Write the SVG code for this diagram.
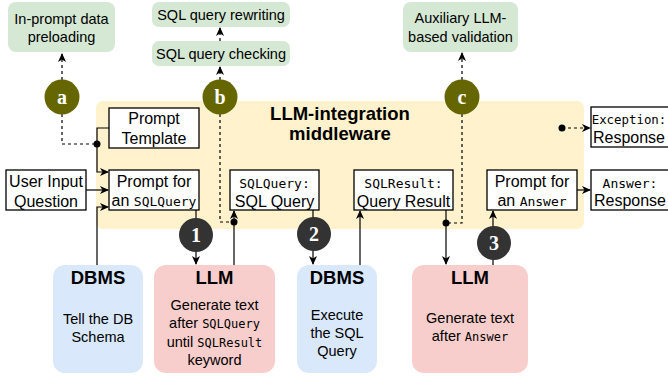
<svg xmlns="http://www.w3.org/2000/svg" width="668" height="377" viewBox="0 0 668 377">
<defs>
<style>
.s{font-family:"Liberation Sans",Arial,sans-serif;fill:#000;text-anchor:middle}
.m{font-family:"DejaVu Sans Mono",monospace}
.bx{font-size:16px}
.bt{font-size:14.5px}
.ttl{font-size:18.5px;font-weight:bold}
.box{fill:#fff;stroke:#000;stroke-width:1.3}
.gr{fill:#D5E8D4}
.bl{fill:#DAE8FC}
.rd{fill:#F8CECC}
.ln{fill:none;stroke:#000;stroke-width:1.2}
.dl{fill:none;stroke:#000;stroke-width:1.2;stroke-dasharray:3 3}
.ol{fill:#666600}
.dk{fill:#333333}
.ct{font-family:"Liberation Serif","Times New Roman",serif;font-weight:bold;fill:#fff;text-anchor:middle;font-size:20px}
</style>
<marker id="ar" markerWidth="9" markerHeight="8" refX="8" refY="4" orient="auto" markerUnits="userSpaceOnUse">
<path d="M0,0 L9,4 L0,8 L2.5,4 z" fill="#000"/>
</marker>
</defs>
<rect x="96" y="101" width="488" height="128" rx="7" fill="#FFF2CC"/>
<text class="s ttl" x="340" y="120">LLM-integration</text>
<text class="s ttl" x="340" y="140">middleware</text>

<g id="connectors">
<path class="dl" d="M62,80 V54" marker-end="url(#ar)"/>
<path class="dl" d="M220,80 V67" marker-end="url(#ar)"/>
<path class="dl" d="M220,41 V28" marker-end="url(#ar)"/>
<path class="dl" d="M462,80 V53" marker-end="url(#ar)"/>
<path class="dl" d="M62,114 V144 H97"/>
<path class="dl" d="M220,114 V222 H234"/>
<path class="dl" d="M462,114 V223 H446"/>
<path class="dl" d="M562,128 H590" marker-end="url(#ar)"/>
<path class="ln" d="M109,128 H97 V172 H108" marker-end="url(#ar)"/>
<path class="ln" d="M86,190 H108" marker-end="url(#ar)"/>
<path class="ln" d="M97,265 V207 H108" marker-end="url(#ar)"/>
<path class="ln" d="M196,210 V264" marker-end="url(#ar)"/>
<path class="ln" d="M234,265 V211" marker-end="url(#ar)"/>
<path class="ln" d="M313,210 V264" marker-end="url(#ar)"/>
<path class="ln" d="M360,265 V211" marker-end="url(#ar)"/>
<path class="ln" d="M446,210 V264" marker-end="url(#ar)"/>
<path class="ln" d="M493,265 V211" marker-end="url(#ar)"/>
<path class="ln" d="M577,190 H590" marker-end="url(#ar)"/>
<circle cx="97" cy="144" r="3.5" fill="#000"/>
<circle cx="234" cy="222" r="3.5" fill="#000"/>
<circle cx="446" cy="223" r="3.5" fill="#000"/>
<circle cx="562" cy="128" r="3.5" fill="#000"/>
</g>

<g id="in-prompt"><rect class="gr" x="8" y="2" width="107" height="50" rx="8"/>
<text class="s bt" x="61.5" y="24">In-prompt data</text><text class="s bt" x="61.5" y="42">preloading</text></g>
<g id="rewriting"><rect class="gr" x="152" y="2" width="138" height="25" rx="7"/>
<text class="s bt" x="221" y="20">SQL query rewriting</text></g>
<g id="checking"><rect class="gr" x="152" y="41" width="138" height="25" rx="7"/>
<text class="s bt" x="221" y="58.5">SQL query checking</text></g>
<g id="auxiliary"><rect class="gr" x="403" y="2" width="115" height="50" rx="8"/>
<text class="s bt" x="460.5" y="23">Auxiliary LLM-</text><text class="s bt" x="460.5" y="42">based validation</text></g>

<g id="circle-a"><circle class="ol" cx="62" cy="97" r="17.5"/><text class="ct" x="62" y="104">a</text></g>
<g id="circle-b"><circle class="ol" cx="220" cy="97" r="17.5"/><text class="ct" x="220" y="104">b</text></g>
<g id="circle-c"><circle class="ol" cx="462" cy="97" r="17.5"/><text class="ct" x="462" y="104">c</text></g>

<g id="prompt-template"><rect class="box" x="109" y="108" width="90" height="40"/>
<text class="s bx" x="154" y="123.5">Prompt</text><text class="s bx" x="154" y="143.5">Template</text></g>
<g id="user-input"><rect class="box" x="6" y="170" width="80" height="40"/>
<text class="s bx" x="46" y="186.5">User Input</text><text class="s bx" x="46" y="206.5">Question</text></g>
<g id="prompt-sqlquery"><rect class="box" x="109" y="170" width="90" height="40"/>
<text class="s bx" x="154" y="186.5">Prompt for</text><text class="s bx" x="154" y="205.5">an <tspan class="m" font-size="13">SQLQuery</tspan></text></g>
<g id="sqlquery"><rect class="box" x="230" y="170" width="89" height="40"/>
<text class="s m" font-size="13" x="274.5" y="187.5">SQLQuery:</text><text class="s bx" x="274.5" y="206.5">SQL Query</text></g>
<g id="sqlresult"><rect class="box" x="354" y="170" width="99" height="40"/>
<text class="s m" font-size="13" x="403.5" y="187.5">SQLResult:</text><text class="s bx" x="403.5" y="206.5">Query Result</text></g>
<g id="prompt-answer"><rect class="box" x="487" y="170" width="90" height="40"/>
<text class="s bx" x="532" y="186.5">Prompt for</text><text class="s bx" x="532" y="205.5">an <tspan class="m" font-size="13">Answer</tspan></text></g>
<g id="answer-response"><rect class="box" x="591" y="170" width="84" height="40"/>
<text class="s m" font-size="13" x="630" y="187.5">Answer:</text><text class="s bx" x="630" y="205.5">Response</text></g>
<g id="exception-response"><rect class="box" x="591" y="107" width="84" height="40"/>
<text class="s m" font-size="12.4" x="629" y="123.5">Exception:</text><text class="s bx" x="629" y="142.5">Response</text></g>

<g id="n1"><circle class="dk" cx="196" cy="235" r="17"/><text class="ct" x="196" y="242">1</text></g>
<g id="n2"><circle class="dk" cx="314" cy="234" r="17"/><text class="ct" x="314" y="241">2</text></g>
<g id="n3"><circle class="dk" cx="494" cy="243" r="17"/><text class="ct" x="494" y="250">3</text></g>

<g id="dbms1"><rect class="bl" x="53" y="265" width="90" height="108" rx="12"/>
<text class="s ttl" x="98" y="283.5">DBMS</text>
<text class="s bt" x="98" y="324">Tell the DB</text><text class="s bt" x="98" y="342">Schema</text></g>
<g id="llm1"><rect class="rd" x="154" y="265" width="121" height="108" rx="12"/>
<text class="s ttl" x="214.5" y="283.5">LLM</text>
<text class="s bt" x="214.5" y="310">Generate text</text>
<text class="s bt" x="214.5" y="328">after <tspan class="m" font-size="12">SQLQuery</tspan></text>
<text class="s bt" x="214.5" y="347">until <tspan class="m" font-size="12">SQLResult</tspan></text>
<text class="s bt" x="214.5" y="365">keyword</text></g>
<g id="dbms2"><rect class="bl" x="297" y="265" width="80" height="108" rx="12"/>
<text class="s ttl" x="337" y="283.5">DBMS</text>
<text class="s bt" x="337" y="320">Execute</text><text class="s bt" x="337" y="338">the SQL</text><text class="s bt" x="337" y="356">Query</text></g>
<g id="llm2"><rect class="rd" x="412" y="265" width="116" height="108" rx="12"/>
<text class="s ttl" x="470" y="283.5">LLM</text>
<text class="s bt" x="470" y="323">Generate text</text>
<text class="s bt" x="470" y="341">after <tspan class="m" font-size="12">Answer</tspan></text></g>
</svg>
